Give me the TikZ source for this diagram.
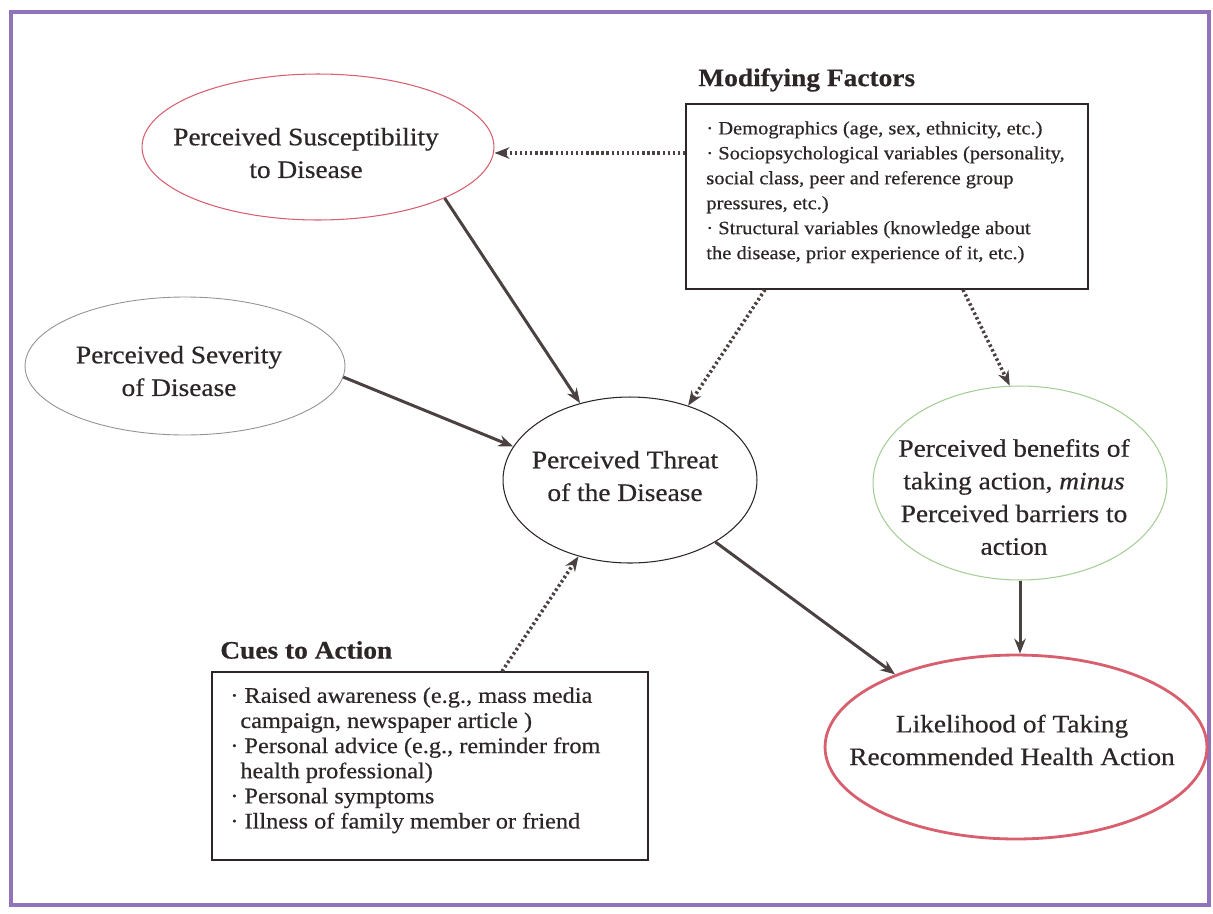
\documentclass[tikz,border=0pt]{standalone}
\usepackage{fontspec}
\setmainfont{Liberation Serif}[FakeStretch=1.09,FakeBold=0.5]
\usepackage{xcolor}
\usepackage{tikz}
\usetikzlibrary{arrows.meta,shapes.geometric}
\definecolor{framepurple}{RGB}{145,115,185}
\definecolor{inkgray}{RGB}{45,38,38}
\definecolor{arrowgray}{RGB}{75,65,65}
\definecolor{ovalred}{RGB}{215,95,110}
\definecolor{ovalgreen}{RGB}{165,205,150}
\definecolor{ovalgray}{RGB}{150,145,145}
\newcommand\ovalfont{\fontsize{14.3}{18.6}\selectfont}
\newcommand\factfont{\fontsize{10.7}{14.2}\selectfont}
\newcommand\cuefont{\fontsize{12.7}{14.3}\selectfont}

\begin{document}
\begin{tikzpicture}[x=0.02cm,y=-0.02cm,
every node/.style={text=inkgray},
oval/.style={shape=ellipse,draw,inner sep=-22pt,line width=0.6pt},
ovaltxt/.style={align=center,font=\ovalfont,inner sep=0pt},
boxed/.style={draw=inkgray,line width=0.8pt,inner sep=0pt},
listtxt/.style={anchor=north west,align=left,inner sep=0pt},
heading/.style={anchor=west,inner sep=0pt,font=\ovalfont\bfseries},
solidarr/.style={-{Stealth[length=8.5pt,width=6.5pt]},draw=arrowgray,line width=1.7pt},
dotarr/.style={-{Stealth[length=8.5pt,width=6.5pt]},draw=arrowgray,line width=2pt,dash pattern=on 1.4pt off 1.5pt}]
\useasboundingbox (0,0) rectangle (1213,913);
\draw[framepurple,line width=2.8pt](11,12) rectangle (1209,905);
\node[oval,draw=ovalred,minimum width=7.04cm,minimum height=2.92cm] (susc) at (318,147) {};
\node[ovaltxt] (suscTxt) at (306,153) {Perceived Susceptibility\\to Disease};
\node[oval,draw=ovalgray,line width=0.5pt,minimum width=6.4cm,minimum height=2.76cm] (sever) at (185,366) {};
\node[ovaltxt] (severTxt) at (179,371) {Perceived Severity\\of Disease};
\node[oval,draw=inkgray,minimum width=5.08cm,minimum height=3.32cm] (threat) at (630,480) {};
\node[ovaltxt] (threatTxt) at (625,476) {Perceived Threat\\of the Disease};
\node[oval,draw=ovalgreen,minimum width=5.88cm,minimum height=3.88cm] (benef) at (1020,483) {};
\node[ovaltxt] (benefTxt) at (1014,497) {Perceived benefits of\\taking action, \textit{minus}\\Perceived barriers to\\action};
\node[oval,draw=ovalred,line width=1.6pt,minimum width=7.64cm,minimum height=3.68cm] (likely) at (1016,747) {};
\node[ovaltxt] (likelyTxt) at (1012,740) {Likelihood of Taking\\Recommended Health Action};
\node[heading] (mfTitle) at (698,80) {Modifying Factors};
\node[boxed,minimum width=8.04cm,minimum height=3.7cm] (mf) at (887,196.5) {};
\node[listtxt,font=\factfont] (mfTxt) at (706,121) {· Demographics (age, sex, ethnicity, etc.)\\· Sociopsychological variables (personality,\\social class, peer and reference group\\pressures, etc.)\\· Structural variables (knowledge about\\the disease, prior experience of it, etc.)};
\node[heading] (cuesTitle) at (220,650) {Cues to Action};
\node[boxed,minimum width=8.72cm,minimum height=3.76cm] (cues) at (430,766) {};
\node[listtxt,font=\cuefont] (cuesTxt) at (230,687) {· Raised awareness (e.g., mass media\\\hspace*{5.7pt}campaign, newspaper article )\\· Personal advice (e.g., reminder from\\\hspace*{5.7pt}health professional)\\· Personal symptoms\\· Illness of family member or friend};
\draw[solidarr](susc.-22)--(threat.123);
\draw[solidarr](sever.-4)--(threat.164);
\draw[solidarr](threat.-36)--(likely.149);
\draw[solidarr](benef.south)--(benef.south|-likely.north);
\draw[dotarr](mf.west|-0,153)--(susc.east|-0,153);
\draw[dotarr](mf.south-|765,0)--(threat.52);
\draw[dotarr](mf.south-|963,0)--(benef.96);
\draw[dotarr](cues.north-|502,0)--(threat.236);
\end{tikzpicture}
\end{document}
